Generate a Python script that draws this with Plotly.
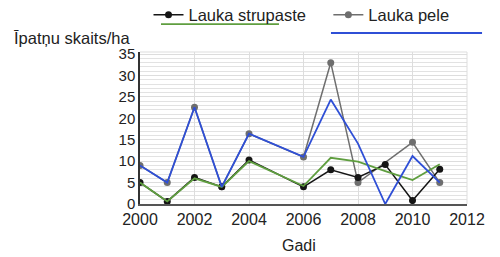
import plotly.graph_objects as go

years_strupaste = [2000, 2001, 2002, 2003, 2004, 2006, 2007, 2008, 2009, 2010, 2011]
strupaste = [5, 0.6, 6.2, 4, 10.3, 4, 8, 6.2, 9.2, 0.8, 8.1]

years_strupaste_line = [2000, 2001, 2002, 2003, 2004, 2006, 2007, 2008, 2009, 2010, 2011]
strupaste_line = [5, 0.6, 6, 4, 10, 4.2, 10.8, 9.9, 7.7, 5.6, 9.3]

years_pele = [2000, 2001, 2002, 2003, 2004, 2006, 2007, 2008, 2010, 2011]
pele = [9, 5, 22.6, 4, 16.4, 11, 33, 5, 14.4, 5]

years_pele_line = [2000, 2001, 2002, 2003, 2004, 2006, 2007, 2008, 2009, 2010, 2011]
pele_line = [9, 5, 22.6, 4, 16.4, 11, 24.4, 14.1, 0, 11.2, 5]

x_ticks = [2000, 2002, 2004, 2006, 2008, 2010, 2012]
y_ticks = [0, 5, 10, 15, 20, 25, 30, 35]

FONT = "Liberation Sans, Arial, sans-serif"

fig = go.Figure()
fig.add_trace(go.Scatter(x=years_pele, y=pele, mode="lines+markers", name="Lauka pele",
                         line=dict(color="#6e6e6e", width=1.5), marker=dict(size=7, color="#6e6e6e"),
                         legend="legend2"))
fig.add_trace(go.Scatter(x=years_strupaste, y=strupaste, mode="lines+markers", name="Lauka strupaste",
                         line=dict(color="#151515", width=1.5), marker=dict(size=7, color="#151515"),
                         legend="legend"))
fig.add_trace(go.Scatter(x=years_strupaste_line, y=strupaste_line, mode="lines", showlegend=False,
                         line=dict(color="#5f9e3f", width=1.8)))
fig.add_trace(go.Scatter(x=years_pele_line, y=pele_line, mode="lines", showlegend=False,
                         line=dict(color="#2f4fd6", width=1.8)))

fig.update_layout(
    width=500, height=257,
    margin=dict(l=140, r=33, t=52, b=53, autoexpand=False),
    paper_bgcolor="white", plot_bgcolor="white",
    font=dict(family=FONT, color="#222222"),
    legend=dict(orientation="h", x=0.026, xanchor="left", y=1.243, yanchor="middle",
                font=dict(size=16.5, family=FONT, color="#222222"), bgcolor="rgba(0,0,0,0)"),
    legend2=dict(orientation="h", x=0.576, xanchor="left", y=1.243, yanchor="middle",
                 font=dict(size=16.5, family=FONT, color="#222222"), bgcolor="rgba(0,0,0,0)"),
    xaxis=dict(range=[2000, 2012], tickvals=x_ticks, ticktext=[str(v) for v in x_ticks],
               showgrid=True, gridcolor="#dddddd", gridwidth=1,
               showline=True, linecolor="#555555", linewidth=1.5,
               tickfont=dict(size=16, family=FONT, color="#222222"), ticks="", zeroline=False),
    yaxis=dict(range=[0, 35.5], tickvals=y_ticks, ticktext=[str(v) for v in y_ticks],
               showgrid=True, gridcolor="#dddddd", gridwidth=1,
               minor=dict(dtick=1, showgrid=True, gridcolor="#e2e2e2", gridwidth=1),
               showline=True, linecolor="#333333", linewidth=1.5,
               tickfont=dict(size=15, family=FONT, color="#222222"), ticks="", zeroline=False),
    shapes=[
        dict(type="line", xref="paper", yref="paper", x0=0.0642, x1=0.425, y0=1.184, y1=1.184,
             line=dict(color="#5f9e3f", width=1.8)),
        dict(type="line", xref="paper", yref="paper", x0=0.584, x1=1.046, y0=1.125, y1=1.125,
             line=dict(color="#2f4fd6", width=1.8)),
        dict(type="line", xref="paper", yref="paper", x0=1, x1=1, y0=0, y1=1,
             line=dict(color="#dddddd", width=1)),
        dict(type="line", xref="paper", yref="paper", x0=0, x1=1, y0=1, y1=1,
             line=dict(color="#dddddd", width=1)),
    ],
    annotations=[
        dict(text="Īpatņu skaits/ha", xref="paper", yref="paper", x=-0.391, y=1.092,
             xanchor="left", yanchor="middle", showarrow=False,
             font=dict(size=16.5, family=FONT, color="#222222")),
        dict(text="Gadi", xref="paper", yref="paper", x=0.486, y=-0.276,
             xanchor="center", yanchor="middle", showarrow=False,
             font=dict(size=16, family=FONT, color="#222222")),
    ],
)

fig.write_html("out.html")
